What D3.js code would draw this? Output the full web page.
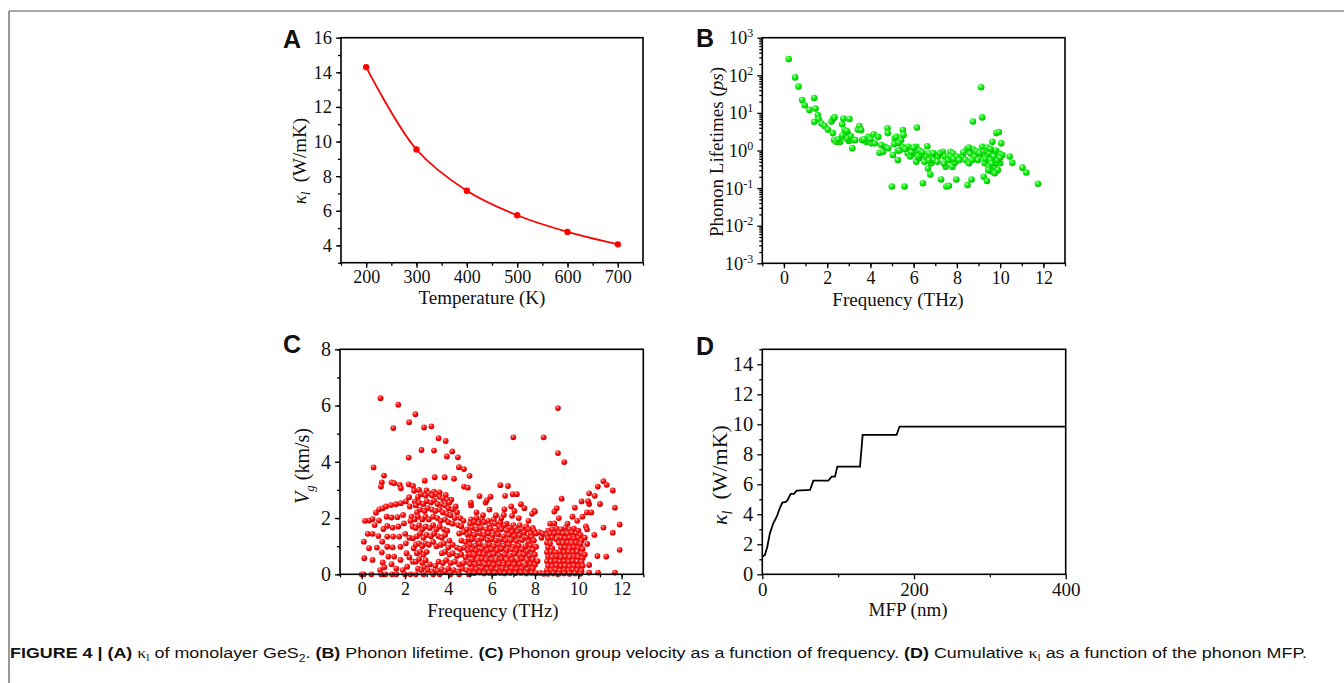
<!DOCTYPE html>
<html><head><meta charset="utf-8">
<script src="https://cdn.jsdelivr.net/npm/d3@7/dist/d3.min.js"></script>
<style>body{margin:0;background:#fff} svg{display:block}</style>
</head><body>
<svg id="fig" width="1344" height="683"></svg>
<script>
// ---------- DATA ----------
// Panel A: lattice thermal conductivity vs temperature
const tempK = [200, 300, 400, 500, 600, 700];
const kappaT = [14.3, 9.54, 7.16, 5.74, 4.78, 4.06];
const aXTicks = [200, 300, 400, 500, 600, 700];
const aYTicks = [4, 6, 8, 10, 12, 14, 16];

// Panel B: phonon lifetimes [frequency THz, lifetime ps]
const lifetimes = [
[0.22,270],[0.52,88],[0.67,50],[0.84,22],[0.96,16],[1.18,12],[1.40,25],[1.46,13],[1.40,5.8],[1.57,8.7],[1.61,6.8],[1.74,5.2],[1.89,4.5],[2.03,3.6],
[2.20,5.9],[2.28,7.1],[2.34,7.6],[2.26,2.9],[2.32,1.9],[2.42,1.7],[2.69,5.0],[2.75,7.1],[2.83,3.0],[2.86,2.3],[2.95,2.9],[3.03,6.9],[3.0,1.8],[2.6,1.7],
[2.8,3.5],[2.92,2.1],[3.16,1.15],[3.2,1.9],[3.42,3.6],[3.49,4.5],[3.57,3.5],[3.62,1.9],[3.80,1.7],[3.9,2.3],[4.04,1.55],[4.15,2.7],[4.2,1.55],[4.36,2.3],
[4.42,0.87],[4.58,0.93],[4.67,1.26],[4.79,3.9],[4.8,2.9],[4.82,1.15],[5.04,0.76],[4.99,0.11],[5.13,2.1],[5.2,2.3],[5.27,1.0],[5.27,0.56],[5.35,1.0],
[5.42,1.9],[5.5,3.5],[5.53,2.6],[5.58,0.11],[5.47,1.26],[5.72,0.83],[5.75,1.26],[5.84,0.69],[5.96,1.15],[6.03,0.83],[6.12,1.26],[6.12,0.5],[6.15,4.1],
[6.24,0.62],[6.27,1.0],[6.36,0.76],[6.43,0.135],[6.5,0.5],[6.58,0.69],[6.63,1.3],[6.66,0.33],[6.71,0.83],[6.77,0.23],[6.81,0.46],[6.86,0.69],[6.92,0.56],
[7.01,0.76],[7.12,0.69],[7.27,0.17],[7.35,0.93],[7.43,0.69],[7.48,0.37],[7.51,0.11],[7.63,0.115],[7.63,0.69],[7.7,0.93],[7.76,0.56],[7.79,0.37],[7.82,0.83],
[7.9,0.47],[7.97,0.17],[8.0,0.69],[8.28,0.69],[8.4,0.56],[8.46,1.07],[8.49,0.12],[8.56,0.46],[8.62,0.83],[8.68,0.17],[8.74,5.9],[8.74,1.07],[8.82,0.69],
[8.97,0.56],[9.12,48],[9.17,7.6],[9.17,1.26],[9.2,0.76],[9.24,0.2],[9.28,0.46],[9.36,1.0],[9.39,0.155],[9.43,0.69],[9.48,0.37],[9.54,0.56],[9.59,0.28],
[9.64,1.7],[9.67,0.93],[9.74,0.37],[9.79,0.62],[9.82,2.9],[9.85,0.46],[9.89,0.3],[9.94,3.1],[9.97,0.83],[10.0,0.46],[10.05,1.55],[10.1,0.76],[10.44,0.69],
[10.56,0.47],[11.03,0.35],[11.21,0.26],[11.75,0.13],
[2.5,2.0],[2.7,2.5],[2.9,3.3],[3.1,2.4],[3.3,1.9],[3.7,2.0],[4.0,2.0],[4.5,1.4],[5.1,1.5],[5.3,1.6],[5.6,1.1],[5.9,0.9],[6.0,1.2],[6.2,0.7],[6.4,0.9],
[6.7,0.55],[6.9,0.85],[7.1,0.5],[7.2,0.85],[7.4,0.45],[7.6,0.55],[7.7,0.7],[7.85,0.6],[8.1,0.55],[8.3,0.9],[8.55,1.2],[8.7,0.55],[8.9,0.95],[9.05,0.85],
[9.3,0.6],[9.4,1.2],[9.5,0.85],[9.6,0.45],[9.7,0.7],[9.8,1.0],[9.9,0.55],[10.0,0.65],[9.55,1.1],[9.45,0.3],[9.75,0.25]
];
const bXTicks = [0, 2, 4, 6, 8, 10, 12];
const bYExponents = [-3, -2, -1, 0, 1, 2, 3];

// Panel C: group velocity [frequency THz, velocity km/s]
const groupVelocity = [
// high outliers
[0.87,6.26],[1.69,6.03],[1.46,5.2],[2.19,5.41],[2.48,5.69],[2.88,5.22],[3.22,5.26],[3.55,4.84],[3.88,4.74],[2.76,4.42],[3.34,4.4],[2.17,4.15],[3.93,4.19],
[4.18,4.37],[4.44,4.16],[4.49,3.81],[4.72,3.74],[4.98,3.5],[4.26,3.4],[3.83,3.45],[3.37,3.45],[2.91,3.33],[4.72,3.12],[4.9,3.08],[0.55,3.8],[1.03,3.51],
[0.93,3.27],[0.89,3.12],[1.38,3.27],[1.5,3.24],[1.76,3.18],[1.81,3.06],[2.17,3.2],[2.37,3.14],[2.42,2.97],[2.65,3.0],[2.99,2.98],[3.34,2.94],[3.6,2.91],
[3.88,2.82],[4.14,2.65],[4.34,2.41],[7.0,4.87],[8.4,4.87],[9.06,5.91],[9.06,4.31],[9.35,3.99],
// low-frequency arcs
[0.1,1.16],[0.12,0.57],[0.28,1.44],[0.5,1.44],[0.35,1.91],[0.5,1.96],[0.34,0.93],[0.5,0.51],[0.66,2.19],[0.81,2.31],[0.77,1.36],[0.7,0.95],[0.8,1.91],
[0.97,2.35],[1.0,1.61],[0.95,1.16],[0.93,0.78],[0.97,0.42],[1.12,2.41],[1.15,2.05],[1.18,1.72],[1.18,1.34],[1.18,0.98],[1.23,0.63],[1.38,0.36],[1.35,2.46],
[1.38,2.02],[1.43,1.66],[1.45,1.34],[1.43,0.96],[1.5,0.63],[1.58,2.49],[1.65,2.03],[1.69,1.7],[1.73,1.34],[1.79,0.98],[1.79,0.51],[1.81,2.53],[1.91,2.11],
[1.95,1.81],[2.01,1.44],[2.04,1.1],[2.07,0.75],[2.1,0.27],[2.04,2.59],[2.19,2.74],[2.22,2.41],[2.3,2.05],[2.35,1.7],[2.37,1.28],[2.4,0.93],[2.37,0.45],
[2.45,2.59],[0.15,1.9],[0.6,1.75],[1.05,0.25],[0.85,0.15],[1.6,0.2],[1.9,0.15],[2.2,0.6],[2.2,1.3],[2.25,1.9],
[0.0,0],[0.1,0],[0.45,0],[0.9,0],[1.1,0],[1.4,0],[1.6,0],[2.0,0],[2.25,0],
// mid region 2.4-5 THz
[2.6,2.75],[2.75,2.85],[2.95,2.8],[3.1,2.88],[3.25,2.8],[3.45,2.85],[3.6,2.75],[3.75,2.7],[3.95,2.65],[4.05,2.55],
[2.5,2.45],[2.65,2.55],[2.85,2.5],[3.0,2.6],[3.2,2.55],[3.35,2.62],[3.5,2.5],[3.7,2.5],[3.85,2.45],[4.0,2.35],[4.2,2.3],[4.4,2.2],
[2.55,2.2],[2.7,2.3],[2.9,2.25],[3.05,2.35],[3.25,2.3],[3.4,2.25],[3.6,2.3],[3.75,2.2],[3.95,2.15],[4.1,2.1],[4.3,2.0],[4.55,2.0],[4.7,1.9],
[2.45,1.95],[2.6,2.05],[2.8,1.95],[2.95,2.05],[3.1,1.95],[3.3,2.05],[3.5,2.0],[3.65,1.9],[3.85,1.95],[4.0,1.85],[4.2,1.8],[4.45,1.75],[4.6,1.7],[4.85,1.6],
[2.5,1.65],[2.65,1.75],[2.8,1.6],[2.95,1.7],[3.15,1.65],[3.3,1.75],[3.45,1.6],[3.6,1.7],[3.8,1.6],[3.95,1.55],[4.5,1.45],[4.7,1.5],[4.9,1.4],
[2.55,1.35],[2.7,1.45],[2.85,1.3],[3.0,1.4],[3.2,1.35],[3.35,1.45],[3.55,1.35],[3.7,1.3],[3.85,1.4],[4.05,1.2],[4.6,1.2],[4.8,1.15],[4.95,1.25],
[2.5,1.05],[2.65,1.1],[2.8,1.0],[2.95,1.1],[3.1,1.05],[3.3,1.15],[3.45,1.0],[3.65,1.05],[3.8,1.1],[4.0,0.95],[4.2,1.05],[4.4,0.95],[4.55,0.9],[4.75,0.95],[4.9,0.85],
[2.55,0.75],[2.7,0.8],[2.85,0.7],[3.0,0.8],[3.7,0.75],[3.85,0.8],[4.05,0.7],[4.2,0.75],[4.4,0.65],[4.6,0.7],[4.8,0.6],[4.95,0.7],
[2.5,0.45],[2.65,0.55],[2.8,0.4],[2.95,0.5],[3.15,0.35],[3.4,0.3],[3.55,0.45],[3.75,0.4],[3.9,0.5],[4.1,0.4],[4.3,0.45],[4.5,0.35],[4.7,0.4],[4.9,0.45],
[2.6,0.2],[2.75,0.15],[2.9,0.25],[3.05,0.15],[3.25,0.1],[3.5,0.12],[3.7,0.18],[3.85,0.1],[4.0,0.2],[4.25,0.15],[4.45,0.1],[4.65,0.2],[4.85,0.15],
[2.5,0],[2.85,0],[3.3,0],[3.6,0],[4.1,0],[4.5,0],[4.95,0],
// dense region 5-8.1 THz
[5.05,1.95],[5.3,2.0],[5.55,1.95],[5.85,1.9],[6.1,1.95],[6.4,1.85],[6.7,1.8],[7.0,1.75],[7.3,1.75],[7.6,1.7],[7.9,1.65],
[5.0,1.8],[5.2,1.85],[5.4,1.8],[5.65,1.85],[5.9,1.75],[6.15,1.8],[6.35,1.7],[6.6,1.75],[6.85,1.65],[7.1,1.65],[7.4,1.6],[7.7,1.6],[7.95,1.55],
[5.1,1.65],[5.3,1.6],[5.5,1.65],[5.75,1.6],[5.95,1.62],[6.2,1.55],[6.45,1.6],[6.7,1.55],[6.95,1.5],[7.2,1.52],[7.5,1.48],[7.8,1.45],[8.05,1.45],
[5.0,1.45],[5.2,1.4],[5.45,1.45],[5.65,1.4],[5.85,1.45],[6.05,1.38],[6.3,1.42],[6.55,1.35],[6.8,1.4],[7.05,1.35],[7.3,1.38],[7.6,1.3],[7.85,1.32],
[5.1,1.25],[5.35,1.2],[5.55,1.27],[5.8,1.22],[6.0,1.25],[6.2,1.2],[6.45,1.25],[6.65,1.2],[6.9,1.22],[7.15,1.18],[7.4,1.22],[7.7,1.15],[7.95,1.2],
[5.0,1.05],[5.25,1.02],[5.45,1.08],[5.7,1.0],[5.9,1.05],[6.1,1.0],[6.35,1.05],[6.55,1.02],[6.8,1.05],[7.0,0.98],[7.25,1.02],[7.55,1.0],[7.8,1.02],[8.05,0.98],
[5.1,0.88],[5.3,0.85],[5.55,0.9],[5.8,0.85],[6.0,0.88],[6.25,0.85],[6.45,0.9],[6.7,0.85],[6.95,0.88],[7.15,0.85],[7.4,0.88],[7.65,0.82],[7.9,0.86],
[5.0,0.7],[5.2,0.68],[5.45,0.72],[5.65,0.7],[5.9,0.68],[6.1,0.72],[6.35,0.68],[6.6,0.7],[6.85,0.66],[7.05,0.72],[7.3,0.68],[7.5,0.7],[7.75,0.66],[8.0,0.7],
[5.1,0.52],[5.35,0.5],[5.55,0.55],[5.75,0.5],[6.0,0.52],[6.2,0.5],[6.45,0.55],[6.7,0.5],[6.95,0.52],[7.2,0.5],[7.4,0.55],[7.65,0.5],[7.9,0.52],
[5.0,0.36],[5.25,0.35],[5.45,0.38],[5.7,0.34],[5.9,0.36],[6.1,0.33],[6.35,0.37],[6.55,0.34],[6.8,0.36],[7.05,0.34],[7.3,0.36],[7.55,0.33],[7.8,0.36],[8.0,0.34],
[5.1,0.2],[5.3,0.18],[5.55,0.21],[5.8,0.18],[6.0,0.2],[6.25,0.18],[6.5,0.2],[6.7,0.17],[6.95,0.2],[7.15,0.18],[7.4,0.2],[7.65,0.17],[7.9,0.2],
[5.0,0.05],[5.2,0.04],[5.45,0.06],[5.65,0.03],[5.9,0.05],[6.15,0.04],[6.4,0.05],[6.6,0.03],[6.85,0.05],[7.1,0.04],[7.35,0.05],[7.6,0.03],[7.85,0.05],[8.05,0.04],
[5.05,2.45],[5.04,2.55],[5.44,2.78],[5.72,2.55],[5.78,2.64],[5.95,2.76],[6.4,3.17],[6.75,3.14],[6.62,2.79],[6.97,2.85],[7.16,2.85],[6.9,2.41],[7.05,2.25],
[7.35,2.49],[7.51,2.35],[7.97,2.25],[7.86,2.15],[6.56,2.11],[6.59,2.31],[6.94,2.08],[5.3,2.2],[5.6,2.1],[5.9,2.3],[6.2,2.1],[6.45,2.0],[7.25,2.0],[7.7,1.9],[8.0,2.23],
// gap 8.1-8.5
[8.12,0.47],[8.2,1.5],[8.3,1.3],[8.25,0.05],[8.35,1.45],[8.4,0.02],
// dense region 8.5-10.2 THz
[8.7,1.8],[8.89,2.23],[9.0,2.35],[8.89,1.81],[9.1,2.0],[9.23,2.69],[9.73,2.05],[9.84,2.37],[10.15,2.59],[10.19,2.05],[9.5,1.8],[9.95,1.9],
[8.6,1.55],[8.8,1.6],[9.0,1.62],[9.2,1.6],[9.4,1.65],[9.6,1.6],[9.8,1.62],[10.0,1.55],
[8.55,1.4],[8.7,1.45],[8.9,1.45],[9.1,1.48],[9.3,1.45],[9.5,1.45],[9.7,1.48],[9.9,1.45],[10.1,1.4],
[8.6,1.28],[8.8,1.3],[9.0,1.25],[9.2,1.3],[9.4,1.28],[9.6,1.3],[9.8,1.27],[10.0,1.3],[10.15,1.2],
[8.55,1.12],[8.7,1.1],[9.1,1.12],[9.3,1.1],[9.5,1.12],[9.7,1.1],[9.9,1.12],[10.1,1.08],
[8.6,0.95],[8.8,0.92],[9.2,0.95],[9.4,0.95],[9.6,0.92],[9.8,0.96],[10.0,0.93],[10.2,0.9],
[8.55,0.78],[8.75,0.8],[8.95,0.78],[9.15,0.8],[9.35,0.77],[9.55,0.8],[9.75,0.78],[9.95,0.8],[10.15,0.75],
[8.6,0.62],[8.8,0.6],[9.0,0.63],[9.2,0.6],[9.4,0.62],[9.6,0.6],[9.8,0.63],[10.0,0.6],[10.2,0.58],
[8.55,0.46],[8.75,0.45],[8.95,0.47],[9.15,0.45],[9.35,0.46],[9.55,0.44],[9.75,0.47],[9.95,0.45],[10.15,0.44],
[8.6,0.3],[8.8,0.28],[9.0,0.31],[9.2,0.29],[9.4,0.3],[9.6,0.28],[9.8,0.3],[10.0,0.29],[10.2,0.3],
[8.55,0.15],[8.75,0.14],[8.95,0.16],[9.15,0.13],[9.35,0.15],[9.55,0.14],[9.75,0.16],[9.95,0.14],[10.15,0.12],
[8.6,0.02],[8.85,0.03],[9.1,0.02],[9.35,0.03],[9.6,0.02],[9.85,0.03],[10.1,0.02],
// sparse high-frequency tail
[10.41,1.08],[10.5,2.88],[10.76,2.79],[10.5,2.5],[10.5,0.33],[10.5,0.06],[10.91,0.06],[11.69,0.06],[10.9,3.12],[11.16,3.31],[11.31,3.18],[11.59,2.98],
[11.69,2.37],[11.91,1.77],[11.91,0.87],[11.59,1.48],[11.29,0.63],[10.88,0.65],[11.16,1.66],[10.74,1.4],[10.4,2.2],[10.35,1.7],[10.3,0.7],[10.45,2.6],
[10.6,2.2],[11.0,2.5],[10.4,1.6],[10.3,1.3]
];
const cXTicks = [0, 2, 4, 6, 8, 10, 12];
const cYTicks = [0, 2, 4, 6, 8];

// Panel D: cumulative kappa vs MFP
const mfpNm =    [0, 3.5, 6.6, 10, 14.5, 19, 23, 26.4, 31, 33.4, 37.4, 41.8, 45.3, 63, 67.3, 87, 91.4, 95.8, 98.9, 128.8, 132.3, 177, 181, 400];
const kappaCum = [1.18, 1.29, 1.84, 2.73, 3.4, 3.84, 4.4, 4.78, 4.82, 4.96, 5.36, 5.36, 5.58, 5.62, 6.24, 6.24, 6.51, 6.51, 7.18, 7.18, 9.29, 9.29, 9.85, 9.85];
const dXTicks = [0, 200, 400];
const dYTicks = [0, 2, 4, 6, 8, 10, 12, 14];

// ---------- DRAWING ----------
const svg = d3.select("#fig");
const SERIF = "'Liberation Serif','Times New Roman',serif";
const SANS = "'Liberation Sans',Arial,sans-serif";
const TITLE_FS = 19;

// page frame lines
svg.append("line").attr("x1", 9).attr("x2", 1344).attr("y1", 11).attr("y2", 11).attr("stroke", "#555").attr("stroke-width", 1.2);
svg.append("line").attr("x1", 9).attr("x2", 9).attr("y1", 11).attr("y2", 683).attr("stroke", "#555").attr("stroke-width", 1.2);

// gradients for spheres
const defs = svg.append("defs");
function sphereGrad(id, stops) {
  const g = defs.append("radialGradient").attr("id", id).attr("cx", "38%").attr("cy", "32%").attr("r", "68%");
  stops.forEach(([o, c]) => g.append("stop").attr("offset", o).attr("stop-color", c));
}
sphereGrad("gRed", [["0%", "#ffd8d8"], ["30%", "#ff3030"], ["75%", "#ee0000"], ["100%", "#b80000"]]);
sphereGrad("gGreen", [["0%", "#d8ffd8"], ["35%", "#22f522"], ["80%", "#00d800"], ["100%", "#00aa00"]]);

function drawAxes(g, x, y, o) {
  const [x0, x1] = x.range(), [yb, yt] = y.range();
  const bx = g.append("g").attr("transform", `translate(0,${yb})`)
    .call(d3.axisBottom(x).tickValues(o.xMajor).tickSizeInner(5).tickSizeOuter(0).tickPadding(3).tickFormat(o.xFmt || d3.format("d")));
  g.append("g").attr("transform", `translate(0,${yb})`)
    .call(d3.axisBottom(x).tickValues(o.xMinor).tickSizeInner(3).tickSizeOuter(0).tickFormat(""));
  const ly = g.append("g").attr("transform", `translate(${x0},0)`)
    .call(d3.axisLeft(y).tickValues(o.yMajor).tickSizeInner(5).tickSizeOuter(0).tickPadding(4).tickFormat(o.yFmt || d3.format("d")));
  g.append("g").attr("transform", `translate(${x0},0)`)
    .call(d3.axisLeft(y).tickValues(o.yMinor).tickSizeInner(3).tickSizeOuter(0).tickFormat(""));
  g.selectAll(".domain").remove();
  g.selectAll(".tick line").attr("stroke", "#000").attr("stroke-width", 1.3);
  bx.selectAll(".tick text").attr("font-family", SERIF).attr("font-size", o.xfs).attr("fill", "#111");
  ly.selectAll(".tick text").attr("font-family", SERIF).attr("font-size", o.yfs).attr("fill", "#111");
  g.append("rect").attr("x", x0).attr("y", yt).attr("width", x1 - x0).attr("height", yb - yt)
    .attr("fill", "none").attr("stroke", "#000").attr("stroke-width", 1.6);
  return {bx, ly};
}

function letter(txt, x, y) {
  svg.append("text").attr("x", x).attr("y", y).text(txt)
    .attr("font-family", SANS).attr("font-weight", "bold").attr("font-size", 25).attr("fill", "#111");
}
function xTitle(g, txt, cx, y, fs) {
  g.append("text").attr("x", cx).attr("y", y).attr("text-anchor", "middle")
    .attr("font-family", SERIF).attr("font-size", fs || TITLE_FS).attr("fill", "#111").text(txt);
}
function kappaYTitle(g, cx, cy, fs) {
  const t = g.append("text").attr("transform", `translate(${cx},${cy}) rotate(-90)`).attr("text-anchor", "middle")
    .attr("font-family", SERIF).attr("font-size", fs).attr("fill", "#111");
  t.append("tspan").attr("font-style", "italic").text("κ");
  t.append("tspan").attr("font-style", "italic").attr("font-size", fs * 0.62).attr("dy", fs * 0.22).text("l");
  t.append("tspan").attr("dy", -fs * 0.22).text("\u00a0 (W/mK)");
}
const range = (a, b, s) => d3.range(a, b + 1e-9, s);

// ----- Panel A -----
{
  const g = svg.append("g");
  const x = d3.scaleLinear().domain([150, 750]).range([341, 643]);
  const y = d3.scaleLinear().domain([3, 16]).range([262.7, 37.7]);
  drawAxes(g, x, y, {xMajor: aXTicks, xMinor: range(150, 750, 50), yMajor: aYTicks, yMinor: range(3, 16, 1), xfs: 18, yfs: 18.5});
  const pts = tempK.map((t, i) => [t, kappaT[i]]);
  g.append("path").datum(pts).attr("fill", "none").attr("stroke", "#ff0000").attr("stroke-width", 1.8)
    .attr("d", d3.line().x(d => x(d[0])).y(d => y(d[1])).curve(d3.curveCatmullRom.alpha(0.5)));
  g.selectAll("circle.m").data(pts).join("circle").attr("cx", d => x(d[0])).attr("cy", d => y(d[1])).attr("r", 3.2).attr("fill", "#ff0000");
  xTitle(g, "Temperature (K)", 482, 304);
  kappaYTitle(g, 306, 161, 19);
  letter("A", 283, 48);
}

// ----- Panel B -----
{
  const g = svg.append("g");
  const x = d3.scaleLinear().domain([-1, 13]).range([762.3, 1065]);
  const y = d3.scaleLog().domain([1e-3, 1e3]).range([263.3, 37.7]);
  const majors = bYExponents.map(e => Math.pow(10, e));
  const minors = [];
  bYExponents.slice(0, -1).forEach(e => { for (let k = 2; k <= 9; k++) minors.push(k * Math.pow(10, e)); });
  const ax = drawAxes(g, x, y, {xMajor: bXTicks, xMinor: range(-1, 13, 1), yMajor: majors, yMinor: minors, yFmt: () => "", xfs: 18, yfs: 18.5});
  ax.ly.selectAll(".tick text").each(function(d) {
    const t = d3.select(this);
    const e = Math.round(Math.log10(d));
    t.text(null);
    t.append("tspan").text("10");
    t.append("tspan").attr("font-size", 12).attr("dy", -7).text(e < 0 ? "-" + (-e) : String(e));
  });
  g.selectAll("circle.p").data(lifetimes).join("circle").attr("class", "p")
    .attr("cx", d => x(d[0])).attr("cy", d => y(d[1])).attr("r", 3.3).attr("fill", "url(#gGreen)");
  xTitle(g, "Frequency (THz)", 898, 306);
  const t = g.append("text").attr("transform", `translate(723,152) rotate(-90)`).attr("text-anchor", "middle")
    .attr("font-family", SERIF).attr("font-size", TITLE_FS).attr("fill", "#111");
  t.append("tspan").text("Phonon Lifetimes (");
  t.append("tspan").attr("font-style", "italic").text("ps");
  t.append("tspan").text(")");
  letter("B", 696, 47);
}

// ----- Panel C -----
{
  const g = svg.append("g");
  const x = d3.scaleLinear().domain([-1, 13]).range([340, 643.3]);
  const y = d3.scaleLinear().domain([0, 8]).range([574.3, 349.3]);
  const clip = defs.append("clipPath").attr("id", "clipC");
  clip.append("rect").attr("x", 340).attr("y", 340).attr("width", 303.3).attr("height", 240);
  g.append("g").attr("clip-path", "url(#clipC)").selectAll("circle").data(groupVelocity).join("circle")
    .attr("cx", d => x(d[0])).attr("cy", d => y(d[1])).attr("r", 2.9).attr("fill", "url(#gRed)");
  drawAxes(g, x, y, {xMajor: cXTicks, xMinor: range(-1, 13, 1), yMajor: cYTicks, yMinor: range(0, 8, 1), xfs: 18, yfs: 20});
  xTitle(g, "Frequency (THz)", 493, 617);
  const t = g.append("text").attr("transform", `translate(309,466) rotate(-90)`).attr("text-anchor", "middle")
    .attr("font-family", SERIF).attr("font-size", 20).attr("fill", "#111");
  t.append("tspan").attr("font-style", "italic").text("V");
  t.append("tspan").attr("font-style", "italic").attr("font-size", 13).attr("dy", 5).text("g");
  t.append("tspan").attr("dy", -5).text(" (km/s)");
  letter("C", 283, 353);
}

// ----- Panel D -----
{
  const g = svg.append("g");
  const x = d3.scaleLinear().domain([0, 400]).range([762.3, 1065.7]);
  const y = d3.scaleLinear().domain([0, 15]).range([574.3, 349.3]);
  drawAxes(g, x, y, {xMajor: dXTicks, xMinor: [100, 300], yMajor: dYTicks, yMinor: range(1, 15, 2), xfs: 19, yfs: 20.5});
  const pts = mfpNm.map((m, i) => [m, kappaCum[i]]);
  g.append("path").datum(pts).attr("fill", "none").attr("stroke", "#000").attr("stroke-width", 1.8)
    .attr("d", d3.line().x(d => x(d[0])).y(d => y(d[1])));
  xTitle(g, "MFP (nm)", 908, 616, 19);
  kappaYTitle(g, 727, 475, 22);
  letter("D", 696, 355);
}

// ----- Caption -----
{
  const cap = svg.append("text").attr("x", 10).attr("y", 658).attr("font-family", "'Liberation Sans Narrow','Arial Narrow'," + SANS)
    .attr("font-size", 15.5).attr("fill", "#111").attr("textLength", 1297).attr("lengthAdjust", "spacingAndGlyphs");
  const parts = [
    ["FIGURE 4 | ", "b"], ["(A)", "b"], [" ", ""], ["κ", "k"], ["l", "ks"], [" of monolayer GeS", ""], ["2", "sub"], [". ", ""],
    ["(B)", "b"], [" Phonon lifetime. ", ""], ["(C)", "b"], [" Phonon group velocity as a function of frequency. ", ""],
    ["(D)", "b"], [" Cumulative ", ""], ["κ", "k"], ["l", "ks"], [" as a function of the phonon MFP.", ""]
  ];
  let shift = 0;
  parts.forEach(([s, st]) => {
    const ts = cap.append("tspan").text(s);
    let dy = 0;
    if (st === "b") ts.attr("font-weight", "bold");
    if (st === "k") ts.attr("font-family", SERIF);
    if (st === "ks") { ts.attr("font-family", SERIF).attr("font-size", 10); dy = 3; }
    if (st === "sub") { ts.attr("font-size", 10.5); dy = 4; }
    ts.attr("dy", dy - shift);
    shift = dy;
  });
}
</script>
</body></html>
